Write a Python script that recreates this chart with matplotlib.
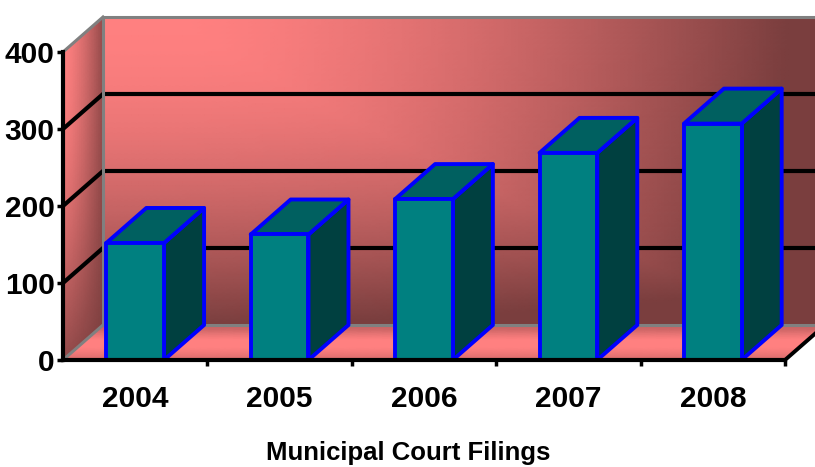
import matplotlib
matplotlib.use('Agg')
import matplotlib.pyplot as plt
import matplotlib.transforms as mtransforms
from matplotlib.colors import LinearSegmentedColormap
from matplotlib.patches import Polygon
import numpy as np

years = ['2004', '2005', '2006', '2007', '2008']
filings = [152, 163, 209, 269, 307]
yticks = [0, 100, 200, 300, 400]
xlabel = 'Municipal Court Filings'

W, H = 815, 467
fig = plt.figure(figsize=(W / 100, H / 100), dpi=100)
ax = fig.add_axes([63 / W, 107 / H, 722 / W, 308 / H])
ax.set_xlim(-0.5, 4.5)
ax.set_ylim(0, 400)
ax.patch.set_visible(False)

# depth of the 3d box, pixels
back = mtransforms.offset_copy(ax.transData, fig=fig, x=40, y=35, units='dots')
inv = ax.transData.inverted()
ddx, ddy = inv.transform(back.transform((0, 0))) - inv.transform(ax.transData.transform((0, 0)))

wall_cm = LinearSegmentedColormap.from_list('wall', ['#ff8080', '#7a3e3e'])
floor_cm = LinearSegmentedColormap.from_list(
    'floor', [(0, '#d86c6c'), (0.2, '#f07878'), (0.35, '#ff8080'), (0.6, '#ff8080'),
              (0.75, '#e87474'), (0.9, '#cc6666'), (1, '#c86464')])

# back wall: light in the upper left, dark to the right and to the floor
u = np.linspace(0, 1, 100)
w = np.linspace(0, 1, 60)
U, Wv = np.meshgrid(u, w)
th = np.clip((U - 0.1) / 0.85, 0, 1) ** 1.6
tv = (1 - Wv) ** 1.8
T = np.clip(np.maximum(th, tv) + 0.2 * np.minimum(th, tv), 0, 1)
ax.pcolormesh(-0.5 + ddx + U * 5, ddy + Wv * 400, T, cmap=wall_cm, vmin=0, vmax=1,
              shading='gouraud', clip_on=False, zorder=0)

# side wall
s = np.linspace(0, 1, 20)
S, Wv = np.meshgrid(s, w)
T = 1 - (1 - S ** 1.5 * 0.8) * (1 - (1 - Wv) ** 1.8 * 0.8)
ax.pcolormesh(-0.5 + S * ddx, Wv * 400 + S * ddy, T, cmap=wall_cm, vmin=0, vmax=1,
              shading='gouraud', clip_on=False, zorder=0)

# floor
xf = np.linspace(-0.5, 4.5, 30)
XF, S = np.meshgrid(xf, s)
ax.pcolormesh(XF + S * ddx, S * ddy, S, cmap=floor_cm, vmin=0, vmax=1,
              shading='gouraud', clip_on=False, zorder=0)

# gridlines on back and side walls
for v in yticks[1:-1]:
    ax.plot([-0.5, 4.5], [v, v], transform=back, color='black', lw=3,
            clip_on=False, zorder=1, solid_capstyle='butt')
    ax.plot([-0.5, -0.5 + ddx], [v, v + ddy], color='black', lw=3,
            clip_on=False, zorder=1)

# grey wall edges
grey = dict(color='#808080', lw=2.2, clip_on=False, zorder=1.5)
ax.plot([-0.5, -0.5, 4.5], [0, 400, 400], transform=back, **grey)
ax.plot([-0.5, 4.5], [0, 0], transform=back, **grey)
ax.plot([-0.5, -0.5 + ddx], [400, 400 + ddy], **grey)
ax.plot([-0.5, -0.5 + ddx], [0, ddy], **grey)

# columns
bw = 0.4
edge = dict(edgecolor='#0000ff', linewidth=2.8, joinstyle='round', clip_on=False)
for i, v in enumerate(filings):
    l, r = i - bw / 2, i + bw / 2
    ax.add_patch(Polygon([(r, 0), (r + ddx, ddy), (r + ddx, v + ddy), (r, v)],
                         facecolor='#004040', zorder=3, **edge))
    ax.add_patch(Polygon([(l, v), (r, v), (r + ddx, v + ddy), (l + ddx, v + ddy)],
                         facecolor='#006060', zorder=3, **edge))
    ax.bar(i, v, width=bw, color='#008080', zorder=3, **edge)

# floor right edge
ax.plot([4.5, 4.5 + ddx], [0, ddy], color='black', lw=2.8, clip_on=False, zorder=4)

for side in ['top', 'right']:
    ax.spines[side].set_visible(False)
for side in ['left', 'bottom']:
    ax.spines[side].set_linewidth(3)
    ax.spines[side].set_zorder(5)

tickfont = dict(family='Liberation Sans', weight='bold', size=21.5)
ax.set_yticks(yticks)
ax.set_yticklabels([str(t) for t in yticks], fontdict=tickfont)
ax.tick_params(axis='y', length=4, width=2.5, pad=2)
ax.set_xticks(range(len(years)))
ax.set_xticklabels(years, fontdict=tickfont)
ax.set_xticks(np.arange(0.5, 5, 1), minor=True)
ax.tick_params(axis='x', which='major', length=0, pad=18)
ax.tick_params(axis='x', which='minor', length=4, width=2.5)

fig.text(408 / W, 7 / H, xlabel, ha='center', va='baseline',
         family='Liberation Sans', fontweight='bold', fontsize=18.5)

fig.savefig('out.png', dpi=100)
